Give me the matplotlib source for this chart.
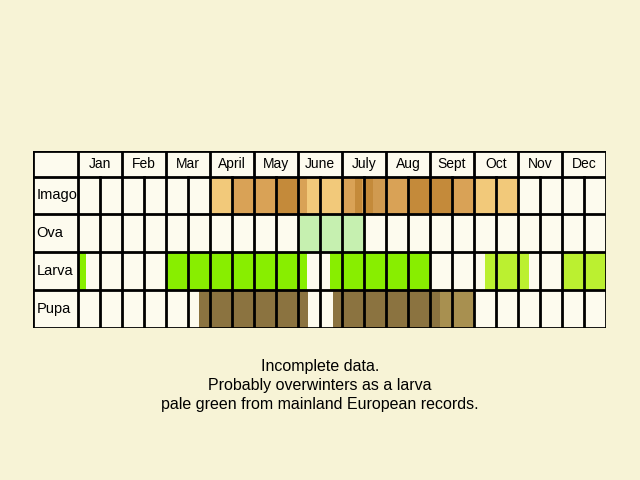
import matplotlib.pyplot as plt
from matplotlib.patches import Rectangle

months = ["Jan","Feb","Mar","April","May","June","July","Aug","Sept","Oct","Nov","Dec"]
stages = ["Imago","Ova","Larva","Pupa"]
# fills per stage: (start, end, colour) in half-month units (0..24)
imago = [(6,7,"#f2c97a"),(7,8,"#d9a256"),(8,9,"#d9a256"),(9,10,"#c48a3a"),
         (10,10.4,"#d9a256"),(10.4,11,"#f2c97a"),(11,12,"#f2c97a"),
         (12,12.6,"#d9a256"),(12.6,12.9,"#c48a3a"),(12.9,13,"#d9a256"),
         (13,13.1,"#d9a256"),(13.1,13.4,"#c48a3a"),(13.4,14,"#d09a50"),
         (14,15,"#d9a256"),(15,16,"#c48a3a"),(16,17,"#c48a3a"),(17,18,"#d9a256"),
         (18,19,"#f2c97a"),(19,20,"#f2c97a")]
ova = [(10,13,"#c6f0b0")]
larva = [(0,0.35,"#88ee00"),(4,10.4,"#88ee00"),(11.45,16,"#88ee00"),
         (18.5,20.5,"#bbf030"),(22,24,"#bbf030")]
pupa = [(5.5,10.45,"#8b7340"),(11.6,16.45,"#8b7340"),(16.45,18,"#a89050")]
fills = [imago, ova, larva, pupa]
notes = ["Incomplete data.", "Probably overwinters as a larva",
         "pale green from mainland European records."]

bg = "#f7f3d6"
cell = "#fdfbee"
fig = plt.figure(figsize=(6.4,4.8), dpi=100, facecolor=bg)
ax = fig.add_axes([33/640, 1-328/480, 573/640, 177/480])
ax.set_xlim(-2.05, 24)
row_b = [0, 26, 63, 101, 139, 177]
ax.set_ylim(row_b[-1], 0)
ax.axis("off")
ax.add_patch(Rectangle((-2.05,0), 26.05, row_b[-1], fc=cell, ec="none"))
for i, segs in enumerate(fills):
    y0, y1 = row_b[i+1], row_b[i+2]
    for s, e, c in segs:
        ax.add_patch(Rectangle((s,y0), e-s, y1-y0, fc=c, ec="none"))
lw = 2
for yb in row_b:
    ax.plot([-2.05,24],[yb,yb], color="black", lw=lw, solid_capstyle="projecting")
ax.plot([-2.05,-2.05],[0,row_b[-1]], color="black", lw=lw)
for k in range(25):
    ytop = 0 if k % 2 == 0 else row_b[1]
    ax.plot([k,k],[ytop,row_b[-1]], color="black", lw=lw)
for m, name in enumerate(months):
    ax.text(2*m+1, row_b[1]/2, name, ha="center", va="center", fontsize=10,
            family="Liberation Sans")
for i, st in enumerate(stages):
    ax.text(-1.9, (row_b[i+1]+row_b[i+2])/2, st, ha="left", va="center",
            fontsize=10.5, family="Liberation Sans")
for j, line in enumerate(notes):
    fig.text(0.5, 1-(366+19.5*j)/480, line, ha="center", va="center",
             fontsize=11.5, family="Liberation Sans")
fig.savefig("out.png", dpi=100, facecolor=bg)
